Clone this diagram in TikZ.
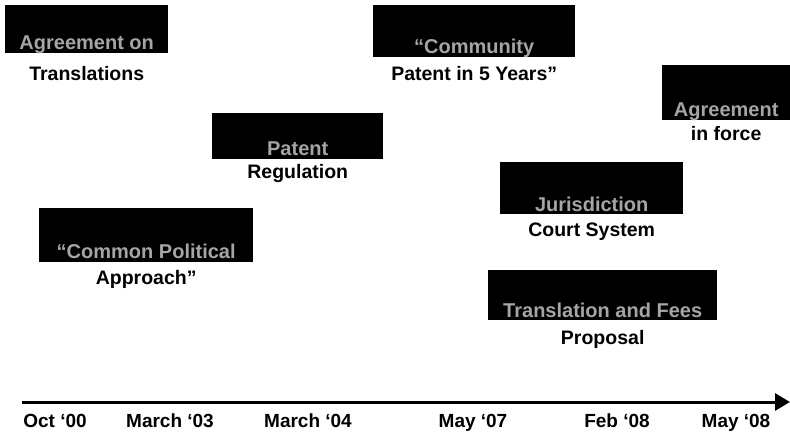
\documentclass[tikz,border=0pt]{standalone}
\usepackage{fontspec}
\setmainfont{Liberation Sans}
\usetikzlibrary{arrows.meta}
\definecolor{faint}{RGB}{165,165,165}
\begin{document}
\begin{tikzpicture}[x=1pt,y=-1pt,
  blk/.style={fill=black, draw=none, inner sep=0pt, anchor=north west},
  intext/.style={text=faint, font=\fontsize{20}{22}\selectfont\bfseries, anchor=base, inner sep=0pt},
  lbl/.style={font=\fontsize{19.5}{22}\selectfont\bfseries, inner sep=0pt, anchor=base},
  datelbl/.style={font=\fontsize{19}{22}\selectfont\bfseries, inner sep=0pt, anchor=base},
  axis/.style={line width=3pt, -{Triangle[length=15pt,width=17pt]}}]
\useasboundingbox (0,0) rectangle (790,437);

% boxes
\node[blk, minimum width=163pt, minimum height=48pt] (b1) at (5,5) {};
\node[blk, minimum width=171pt, minimum height=46pt] (b2) at (212,113) {};
\node[blk, minimum width=202pt, minimum height=52pt] (b3) at (373,5) {};
\node[blk, minimum width=128pt, minimum height=55pt] (b4) at (662,65) {};
\node[blk, minimum width=214pt, minimum height=54pt] (b5) at (39,208) {};
\node[blk, minimum width=183pt, minimum height=52pt] (b6) at (500,162) {};
\node[blk, minimum width=229pt, minimum height=50pt] (b7) at (488,270) {};

% faint text inside the boxes
\node[intext] (t1) at ([yshift=4pt]b1.south) {Agreement on};
\node[intext] (t2) at ([yshift=4pt]b2.south) {Patent};
\node[intext] (t3) at ([yshift=4pt]b3.south) {“Community};
\node[intext] (t4) at ([yshift=4pt]b4.south) {Agreement};
\node[intext] (t5) at ([yshift=4pt]b5.south) {“Common Political};
\node[intext] (t6) at ([yshift=3pt]b6.south) {Jurisdiction};
\node[intext] (t7) at ([yshift=3pt]b7.south) {Translation and Fees};

% labels below the boxes
\node[lbl] (l1) at (b1.south |- 0,80) {Translations};
\node[lbl] (l2) at (b2.south |- 0,178) {Regulation};
\node[lbl] (l3) at (b3.south |- 0,80) {Patent in 5 Years”};
\node[lbl] (l4) at (b4.south |- 0,140) {in force};
\node[lbl] (l5) at (b5.south |- 0,284) {Approach”};
\node[lbl] (l6) at (b6.south |- 0,236) {Court System};
\node[lbl] (l7) at (b7.south |- 0,344) {Proposal};

% timeline
\coordinate (ts) at (22,402);
\coordinate (te) at (790,402);
\draw[axis] (ts) -- (te);

\node[datelbl] (d1) at (55,427) {Oct ‘00};
\node[datelbl] (d2) at (170,427) {March ‘03};
\node[datelbl] (d3) at (308,427) {March ‘04};
\node[datelbl] (d4) at (473,427) {May ‘07};
\node[datelbl] (d5) at (617,427) {Feb ‘08};
\node[datelbl] (d6) at (736,427) {May ‘08};
\end{tikzpicture}
\end{document}
